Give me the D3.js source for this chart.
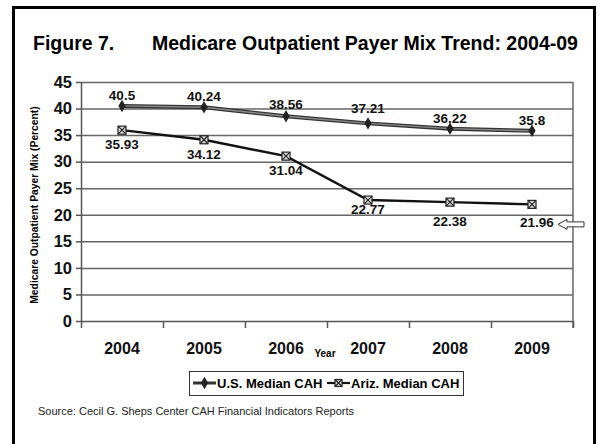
<!DOCTYPE html>
<html>
<head>
<meta charset="utf-8">
<script src="https://cdn.jsdelivr.net/npm/d3@7"></script>
<style>
  body { margin: 0; background: #fff; }
  svg { display: block; font-family: "Liberation Sans", Arial, sans-serif; }
</style>
</head>
<body>
<div id="chart"></div>
<script>
// data
const years = ['2004', '2005', '2006', '2007', '2008', '2009'];
const usMedian = [40.5, 40.24, 38.56, 37.21, 36.22, 35.8];
const azMedian = [35.93, 34.12, 31.04, 22.77, 22.38, 21.96];
const yTicks = [0, 5, 10, 15, 20, 25, 30, 35, 40, 45];

// label nudges (px) so the numbers sit like the original
const usLabelDy = [-6, -6, -7, -10, -6, -6];
const azLabelDy = [19, 19, 19, 14, 24, 23];

const W = 602, H = 444;
const m = { top: 82, right: 29, bottom: 123, left: 81 };

const svg = d3.select('#chart').append('svg')
  .attr('width', W)
  .attr('height', H);

svg.append('rect')
  .attr('width', W).attr('height', H)
  .attr('fill', '#fff');

// outer frame
svg.append('rect')
  .attr('x', 13.5).attr('y', 7.5)
  .attr('width', 581).attr('height', 460)
  .attr('fill', 'none')
  .attr('stroke', '#000')
  .attr('stroke-width', 3);

// title
svg.append('text')
  .attr('x', 33).attr('y', 50)
  .style('font-size', '19.5px').style('font-weight', 'bold')
  .text('Figure 7.');
svg.append('text')
  .attr('x', 152).attr('y', 50)
  .style('font-size', '19.5px').style('font-weight', 'bold')
  .text('Medicare Outpatient Payer Mix Trend: 2004-09');

const x = d3.scaleBand()
  .domain(years)
  .range([m.left, W - m.right]);
const xEdge = d3.scaleLinear()
  .domain([0, years.length])
  .range([m.left, W - m.right]);
const y = d3.scaleLinear()
  .domain([0, 45])
  .range([H - m.bottom, m.top]);

const cx = d => x(d) + x.bandwidth() / 2;

// gridlines
svg.append('g')
  .attr('transform', `translate(${m.left},0)`)
  .call(d3.axisLeft(y).tickValues(yTicks.slice(1)).tickSize(-(W - m.left - m.right)).tickFormat(''))
  .call(g => g.select('.domain').remove())
  .selectAll('line')
    .attr('stroke', '#666')
    .attr('stroke-width', 1.5);

// right edge of plot
svg.append('line')
  .attr('x1', W - m.right).attr('x2', W - m.right)
  .attr('y1', y(45)).attr('y2', y(0) + 7)
  .attr('stroke', '#666').attr('stroke-width', 1.5);

// y axis
const yAxis = svg.append('g')
  .attr('transform', `translate(${m.left},0)`)
  .call(d3.axisLeft(y).tickValues(yTicks).tickSize(5).tickPadding(4).tickSizeOuter(0));
yAxis.selectAll('path, line').attr('stroke', '#555').attr('stroke-width', 1.5);
yAxis.selectAll('text')
  .style('font-size', '16.5px').style('font-weight', 'bold')
  .attr('fill', '#111');

// x axis: category boundary ticks
const xTicks = svg.append('g')
  .attr('transform', `translate(0,${y(0)})`)
  .call(d3.axisBottom(xEdge).ticks(years.length).tickSize(7).tickFormat('').tickSizeOuter(0));
xTicks.selectAll('path, line').attr('stroke', '#555').attr('stroke-width', 1.5);

// x axis: year labels
const xLabels = svg.append('g')
  .attr('transform', `translate(0,${y(0)})`)
  .call(d3.axisBottom(x).tickSize(0));
xLabels.select('.domain').remove();
xLabels.selectAll('text')
  .attr('y', 33).attr('dy', 0)
  .style('font-size', '16px').style('font-weight', 'bold')
  .attr('fill', '#111');

svg.append('text')
  .attr('x', 325).attr('y', 357)
  .attr('text-anchor', 'middle')
  .style('font-size', '10px').style('font-weight', 'bold')
  .text('Year');

svg.append('text')
  .attr('transform', 'translate(38,205) rotate(-90)')
  .attr('text-anchor', 'middle')
  .style('font-size', '10.3px').style('font-weight', 'bold')
  .text('Medicare Outpatient Payer Mix (Percent)');

const line = d3.line()
  .x((d, i) => cx(years[i]))
  .y(d => y(d));

// U.S. series: dark edged grey line
svg.append('path')
  .datum(usMedian)
  .attr('fill', 'none')
  .attr('stroke', '#333')
  .attr('stroke-width', 4)
  .attr('d', line);
svg.append('path')
  .datum(usMedian)
  .attr('fill', 'none')
  .attr('stroke', '#8a8a8a')
  .attr('stroke-width', 1.4)
  .attr('d', line);

const diamond = d3.symbol().type(d3.symbolDiamond).size(45);
svg.append('g')
  .selectAll('path')
  .data(usMedian)
  .join('path')
    .attr('transform', (d, i) => `translate(${cx(years[i])},${y(d)})`)
    .attr('d', diamond)
    .attr('fill', '#222');

// Ariz. series
svg.append('path')
  .datum(azMedian)
  .attr('fill', 'none')
  .attr('stroke', '#111')
  .attr('stroke-width', 2.4)
  .attr('d', line);

function boxX(g, s) {
  g.append('rect')
    .attr('x', -s / 2).attr('y', -s / 2)
    .attr('width', s).attr('height', s)
    .attr('fill', '#ddd').attr('stroke', '#222').attr('stroke-width', 1.2);
  g.append('path')
    .attr('d', `M${-s / 2},${-s / 2}L${s / 2},${s / 2}M${s / 2},${-s / 2}L${-s / 2},${s / 2}`)
    .attr('stroke', '#222').attr('stroke-width', 1.2);
}

svg.append('g')
  .selectAll('g')
  .data(azMedian)
  .join('g')
    .attr('transform', (d, i) => `translate(${cx(years[i])},${y(d)})`)
    .each(function () { boxX(d3.select(this), 8); });

// value labels
svg.append('g')
  .selectAll('text')
  .data(usMedian)
  .join('text')
    .attr('x', (d, i) => cx(years[i]))
    .attr('y', (d, i) => y(d) + usLabelDy[i])
    .attr('text-anchor', 'middle')
    .style('font-size', '13.5px').style('font-weight', 'bold')
    .attr('fill', '#111')
    .text(d => d);

svg.append('g')
  .selectAll('text')
  .data(azMedian)
  .join('text')
    .attr('x', (d, i) => cx(years[i]) + (i === 5 ? 5 : 0))
    .attr('y', (d, i) => y(d) + azLabelDy[i])
    .attr('text-anchor', 'middle')
    .style('font-size', '13.5px').style('font-weight', 'bold')
    .attr('fill', '#111')
    .text(d => d);

// hollow arrow pointing at the last Ariz. value
const ax = cx(years[5]) + 26, ay = y(azMedian[5]) + 20;
svg.append('path')
  .attr('d', `M${ax},${ay} L${ax + 9},${ay - 5} L${ax + 9},${ay - 2.5} L${ax + 26},${ay - 2.5}
              L${ax + 26},${ay + 2.5} L${ax + 9},${ay + 2.5} L${ax + 9},${ay + 5} Z`)
  .attr('fill', '#fff')
  .attr('stroke', '#333')
  .attr('stroke-width', 1);

// legend
const lg = svg.append('g');
lg.append('rect')
  .attr('x', 189.5).attr('y', 371.5)
  .attr('width', 274).attr('height', 24)
  .attr('fill', '#fff').attr('stroke', '#333');

lg.append('line')
  .attr('x1', 193).attr('x2', 216).attr('y1', 383).attr('y2', 383)
  .attr('stroke', '#333').attr('stroke-width', 3);
lg.append('path')
  .attr('transform', 'translate(204.5,383)')
  .attr('d', diamond)
  .attr('fill', '#222');
lg.append('text')
  .attr('x', 217).attr('y', 388)
  .style('font-size', '13px').style('font-weight', 'bold')
  .text('U.S. Median CAH');

lg.append('line')
  .attr('x1', 327).attr('x2', 350).attr('y1', 383).attr('y2', 383)
  .attr('stroke', '#111').attr('stroke-width', 2.2);
boxX(lg.append('g').attr('transform', 'translate(338.5,383)'), 7);
lg.append('text')
  .attr('x', 351).attr('y', 388)
  .style('font-size', '13px').style('font-weight', 'bold')
  .text('Ariz. Median CAH');

svg.append('text')
  .attr('x', 38).attr('y', 415)
  .style('font-size', '11px')
  .attr('fill', '#222')
  .text('Source:  Cecil G. Sheps Center CAH Financial Indicators Reports');
</script>
</body>
</html>
